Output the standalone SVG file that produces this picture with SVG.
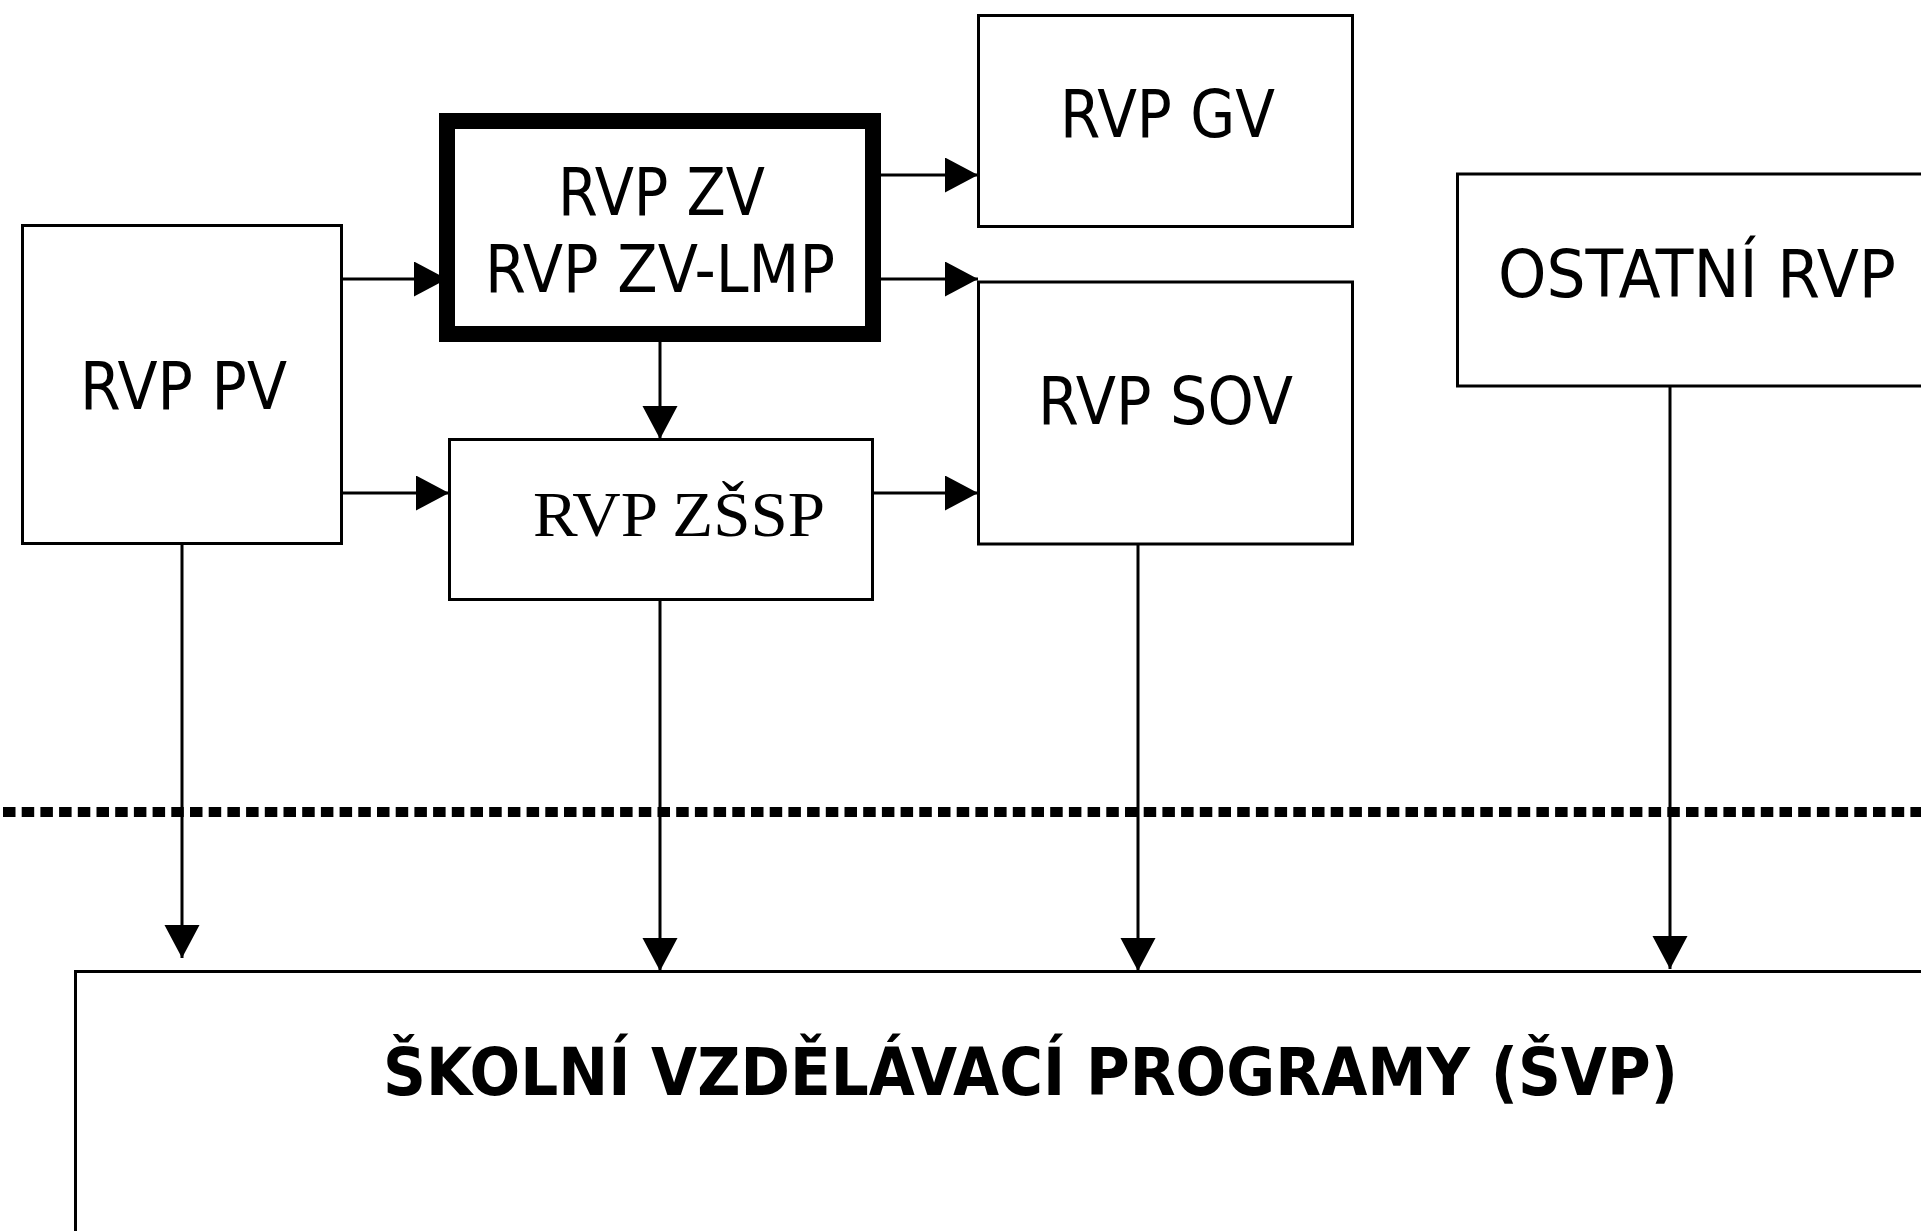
<svg xmlns="http://www.w3.org/2000/svg" width="1921" height="1231" viewBox="0 0 1921 1231">
<style>
.box{fill:#fff;stroke:#000;stroke-width:3}
.thick{fill:#fff;stroke:#000;stroke-width:16}
.lbl{font-family:"DejaVu Sans","Liberation Sans",sans-serif;font-size:66px;fill:#000}
.ser{font-family:"Liberation Serif","DejaVu Serif",serif;font-size:64px;fill:#000}
.bold{font-family:"DejaVu Sans","Liberation Sans",sans-serif;font-size:66px;font-weight:bold;fill:#000}
.con{stroke:#000;stroke-width:3;fill:none;marker-end:url(#ah)}
</style>
<defs>
<marker id="ah" markerUnits="userSpaceOnUse" markerWidth="34" markerHeight="36" refX="33" refY="17.5" orient="auto">
<path d="M0,0 L33,17.5 L0,35 Z" fill="#000"/>
</marker>
</defs>
<rect width="1921" height="1231" fill="#fff"/>
<line x1="3" y1="812" x2="1921" y2="812" stroke="#000" stroke-width="10" stroke-dasharray="12.5 6.2"/>
<g id="connectors">
<line class="con" x1="343" y1="279" x2="447" y2="279"/>
<line class="con" x1="343" y1="493" x2="449" y2="493"/>
<line class="con" x1="881" y1="175" x2="978" y2="175"/>
<line class="con" x1="881" y1="279" x2="978" y2="279"/>
<line class="con" x1="873" y1="493" x2="978" y2="493"/>
<line class="con" x1="660" y1="342" x2="660" y2="439"/>
<line class="con" x1="182" y1="545" x2="182" y2="958"/>
<line class="con" x1="660" y1="600" x2="660" y2="971"/>
<line class="con" x1="1138" y1="545" x2="1138" y2="971"/>
<line class="con" x1="1670" y1="387" x2="1670" y2="969"/>
</g>
<g id="rvp-pv">
<rect class="box" x="22.5" y="225.5" width="319" height="318"/>
<text class="lbl" x="80" y="409" textLength="207" lengthAdjust="spacingAndGlyphs">RVP PV</text>
</g>
<g id="rvp-zv">
<rect class="thick" x="447" y="121" width="426" height="213"/>
<text class="lbl" x="558" y="215" textLength="207" lengthAdjust="spacingAndGlyphs">RVP ZV</text>
<text class="lbl" x="485" y="292" textLength="350" lengthAdjust="spacingAndGlyphs">RVP ZV-LMP</text>
</g>
<g id="rvp-zssp">
<rect class="box" x="449.5" y="439.5" width="423" height="160"/>
<text class="ser" x="533" y="536" textLength="292" lengthAdjust="spacingAndGlyphs">RVP ZŠSP</text>
</g>
<g id="rvp-gv">
<rect class="box" x="978.5" y="15.5" width="374" height="211"/>
<text class="lbl" x="1060" y="137" textLength="215" lengthAdjust="spacingAndGlyphs">RVP GV</text>
</g>
<g id="rvp-sov">
<rect class="box" x="978.5" y="282" width="374" height="262"/>
<text class="lbl" x="1038" y="424" textLength="255" lengthAdjust="spacingAndGlyphs">RVP SOV</text>
</g>
<g id="ostatni-rvp">
<rect class="box" x="1457.5" y="174" width="520" height="212"/>
<text class="lbl" x="1498" y="297" textLength="398" lengthAdjust="spacingAndGlyphs">OSTATNÍ RVP</text>
</g>
<g id="svp">
<rect class="box" x="75.5" y="971.5" width="1900" height="400"/>
<text class="bold" x="383" y="1095" textLength="1295" lengthAdjust="spacingAndGlyphs">ŠKOLNÍ VZDĚLÁVACÍ PROGRAMY (ŠVP)</text>
</g>
</svg>
